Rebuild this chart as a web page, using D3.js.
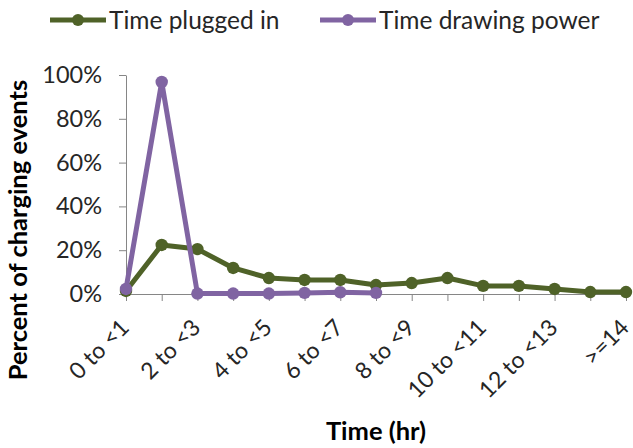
<!DOCTYPE html>
<html>
<head>
<meta charset="utf-8">
<script src="https://cdn.jsdelivr.net/npm/d3@7"></script>
<style>
  html, body { margin: 0; padding: 0; background: #ffffff; }
  svg { display: block; font-family: Lato, "Open Sans", sans-serif; }
</style>
</head>
<body>
<svg id="chart" width="633" height="448"></svg>
<script>
// Duration bins (hours) for charging events
const categories = ["0 to <1", "1 to <2", "2 to <3", "3 to <4", "4 to <5", "5 to <6", "6 to <7",
  "7 to <8", "8 to <9", "9 to <10", "10 to <11", "11 to <12", "12 to <13", "13 to <14", ">=14"];
// Share of charging events per bin
const pluggedIn = [0.014, 0.224, 0.205, 0.119, 0.073, 0.064, 0.064, 0.041, 0.05, 0.073, 0.037, 0.037, 0.023, 0.009, 0.009];
const drawingPower = [0.023, 0.968, 0.002, 0.002, 0.002, 0.005, 0.008, 0.005];
const yTicks = [0, 0.2, 0.4, 0.6, 0.8, 1.0];
const seriesNames = ["Time plugged in", "Time drawing power"];
const seriesColors = ["#4f6228", "#8064a2"];

const svg = d3.select("#chart");
const axisColor = "#868686";
const textColor = "#262626";

const x = d3.scalePoint().domain(categories).range([126, 626]);
const y = d3.scaleLinear().domain([0, 1]).range([294, 75]);

// Y axis
const yAxis = svg.append("g")
  .attr("transform", "translate(126,0)")
  .call(d3.axisLeft(y).tickValues(yTicks).tickFormat(d3.format(".0%")).tickSize(7).tickSizeOuter(0).tickPadding(17));
yAxis.select(".domain").attr("stroke", axisColor);
yAxis.selectAll(".tick line").attr("stroke", axisColor);
yAxis.selectAll(".tick text").attr("fill", textColor).style("font-size", "23.5px").style("font-family", "Lato");

// X axis: every bin gets a tick, every other bin a label
const xAxis = svg.append("g")
  .attr("transform", "translate(0,294)")
  .call(d3.axisBottom(x).tickSize(7).tickSizeOuter(0).tickFormat((d, i) => i % 2 === 0 ? d : ""));
xAxis.select(".domain").attr("stroke", axisColor).attr("d", "M126,0.5H626");
xAxis.selectAll(".tick line").attr("stroke", axisColor);
xAxis.selectAll(".tick text")
  .attr("fill", textColor)
  .style("font-size", "23px").style("font-family", "Lato")
  .attr("text-anchor", "end")
  .attr("transform", "translate(4,35) rotate(-45)")
  .attr("x", 0).attr("y", 0).attr("dy", 0);

// Series lines and markers
const line = d3.line().x((d, i) => x(categories[i])).y(d => y(d));
[pluggedIn, drawingPower].forEach((vals, s) => {
  const g = svg.append("g");
  g.append("path").datum(vals)
    .attr("d", line).attr("fill", "none")
    .attr("stroke", seriesColors[s]).attr("stroke-width", 5).attr("stroke-linejoin", "round");
  g.selectAll("circle").data(vals).join("circle")
    .attr("cx", (d, i) => x(categories[i])).attr("cy", d => y(d))
    .attr("r", 6.2).attr("fill", seriesColors[s]);
});

// Axis titles
svg.append("text")
  .attr("transform", "translate(27,230) rotate(-90)")
  .attr("text-anchor", "middle")
  .style("font-size", "25.5px").style("font-weight", "bold")
  .attr("fill", "#000").text("Percent of charging events");
svg.append("text")
  .attr("x", 376).attr("y", 440)
  .attr("text-anchor", "middle")
  .style("font-size", "25.5px").style("font-weight", "bold")
  .attr("fill", "#000").text("Time (hr)");

// Legend
const legendX = [50, 320];
seriesNames.forEach((name, s) => {
  const g = svg.append("g").attr("transform", `translate(${legendX[s]},20)`);
  g.append("line").attr("x1", 0).attr("x2", 56).attr("y1", 0).attr("y2", 0)
    .attr("stroke", seriesColors[s]).attr("stroke-width", 5);
  g.append("circle").attr("cx", 28).attr("cy", 0).attr("r", 6).attr("fill", seriesColors[s]);
  g.append("text").attr("x", 59).attr("y", 0).attr("dy", "0.35em")
    .style("font-size", "24.5px").attr("fill", textColor).text(name);
});
</script>
</body>
</html>
